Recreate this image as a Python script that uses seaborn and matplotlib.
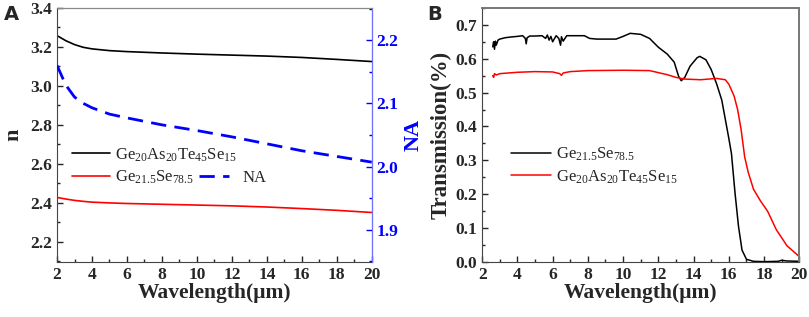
import numpy as np
import pandas as pd
import seaborn as sns
import matplotlib.pyplot as plt
from matplotlib.ticker import MultipleLocator

sns.set_style("ticks")
plt.rcParams['font.family'] = ['Liberation Serif', 'DejaVu Serif']
plt.rcParams['mathtext.fontset'] = 'custom'
plt.rcParams['mathtext.rm'] = 'Liberation Serif'
plt.rcParams['mathtext.it'] = 'Liberation Serif:italic'

# Panel A: refractive index n and NA vs wavelength
wl_a = [2, 2.5, 3, 3.5, 4, 5, 6, 8, 10, 12, 14, 16, 18, 20]
n_gast = [3.258, 3.232, 3.212, 3.198, 3.190, 3.181, 3.176, 3.169, 3.163, 3.158, 3.153, 3.146, 3.136, 3.125]
n_gese = [2.428, 2.420, 2.413, 2.408, 2.404, 2.400, 2.397, 2.393, 2.389, 2.385, 2.379, 2.371, 2.362, 2.351]
na_vals = [2.160, 2.129, 2.110, 2.100, 2.093, 2.083, 2.077, 2.066, 2.057, 2.047, 2.036, 2.025, 2.016, 2.007]

# Panel B: transmission vs wavelength
wl_b1 = [2.6, 2.65, 2.7, 2.75, 2.8, 2.9, 3.0, 3.3, 3.6, 4.0, 4.3, 4.45, 4.5, 4.55, 4.7, 5.0,
         5.4, 5.6, 5.7, 5.8, 5.9, 6.0, 6.2, 6.35, 6.45, 6.5, 6.6, 6.8, 7.0, 7.4, 7.8, 8.1,
         8.5, 9.0, 9.6, 10.0, 10.4, 11.0, 11.5, 12.0, 12.5, 12.9, 13.15, 13.3, 13.5, 13.8,
         14.2, 14.35, 14.7, 15.0, 15.3, 15.6, 16.0, 16.15, 16.35, 16.55, 16.75, 17.0, 17.4,
         18.0, 18.8, 19.0, 19.3, 20.0]
tr_gese = [0.635, 0.650, 0.628, 0.652, 0.640, 0.655, 0.658, 0.662, 0.664, 0.666, 0.668, 0.660, 0.644, 0.662, 0.667, 0.667,
           0.668, 0.660, 0.670, 0.655, 0.666, 0.650, 0.668, 0.660, 0.640, 0.665, 0.652, 0.668, 0.668, 0.668, 0.668, 0.660,
           0.658, 0.658, 0.658, 0.666, 0.675, 0.672, 0.660, 0.634, 0.614, 0.590, 0.548, 0.535, 0.545, 0.578,
           0.603, 0.607, 0.597, 0.568, 0.527, 0.478, 0.365, 0.320, 0.205, 0.105, 0.035, 0.008, 0.002,
           0.001, 0.002, 0.005, 0.003, 0.002]

wl_b2 = [2.6, 2.65, 2.7, 2.8, 3.0, 3.5, 4.0, 5.0, 6.0, 6.4, 6.5, 6.6, 7.0, 8.0, 10.0, 11.5, 12.5,
         13.0, 13.5, 14.4, 15.3, 15.8, 16.0, 16.3, 16.5, 16.7, 16.9, 17.1, 17.4, 17.8, 18.2,
         18.7, 19.3, 20.0]
tr_gast = [0.550, 0.545, 0.556, 0.552, 0.556, 0.558, 0.560, 0.562, 0.561, 0.556, 0.551, 0.558, 0.562, 0.565, 0.566, 0.565, 0.553,
           0.545, 0.540, 0.538, 0.542, 0.538, 0.525, 0.490, 0.450, 0.390, 0.310, 0.265, 0.215, 0.180, 0.150,
           0.095, 0.048, 0.016]

lab_gast = r'$\mathrm{Ge_{20}As_{20}Te_{45}Se_{15}}$'
lab_gese = r'$\mathrm{Ge_{21.5}Se_{78.5}}$'

df_a = pd.DataFrame({'wl': wl_a, 'n1': n_gast, 'n2': n_gese, 'na': na_vals})
df_b1 = pd.DataFrame({'wl': wl_b1, 't': tr_gese})
df_b2 = pd.DataFrame({'wl': wl_b2, 't': tr_gast})

fig = plt.figure(figsize=(8.09, 3.17), dpi=100)
ax1 = fig.add_axes([0.0705, 0.1735, 0.389, 0.8015])
ax2 = ax1.twinx()
axb = fig.add_axes([0.596, 0.1735, 0.392, 0.8015])

# ---- Panel A
sns.lineplot(data=df_a, x='wl', y='n1', ax=ax1, color='black', lw=1.2, label=lab_gast)
sns.lineplot(data=df_a, x='wl', y='n2', ax=ax1, color='red', lw=1.2, label=lab_gese)
sns.lineplot(data=df_a, x='wl', y='na', ax=ax2, color='blue', lw=2.0, label='NA')
ax2.lines[0].set_dashes([5.5, 3])

ax1.set_xlim(2, 20)
ax1.set_ylim(2.097, 3.4)
ax2.set_ylim(1.849, 2.251)
ax1.xaxis.set_major_locator(MultipleLocator(2))
ax1.xaxis.set_minor_locator(MultipleLocator(1))
ax1.yaxis.set_minor_locator(MultipleLocator(0.1))
ax2.yaxis.set_minor_locator(MultipleLocator(0.05))
ax1.set_yticks([2.2, 2.4, 2.6, 2.8, 3.0, 3.2, 3.4])
ax2.set_yticks([1.9, 2.0, 2.1, 2.2])

ax1.tick_params(which='both', direction='in', top=False, right=False, width=1)
ax1.tick_params(which='major', length=4, labelsize=12.5)
ax1.tick_params(which='minor', length=2)
ax2.tick_params(which='both', direction='in', colors='blue', width=1)
ax2.tick_params(which='major', length=4, labelsize=12.5)
ax2.tick_params(which='minor', length=2)
for lbl in ax1.get_xticklabels() + ax1.get_yticklabels() + ax2.get_yticklabels():
    lbl.set_fontweight('bold')

ax1.set_xlabel('Wavelength(μm)', fontsize=15.5, fontweight='bold', labelpad=0)
ax1.set_ylabel('n', fontsize=16, fontweight='bold', labelpad=5)
ax2.set_ylabel('NA', fontsize=16, fontweight='bold', color='blue', labelpad=4)

ax1.spines['top'].set_color('#888888')
ax1.spines['left'].set_color('#444444')
ax1.spines['bottom'].set_color('#444444')
ax2.spines['right'].set_color('#7070ff')
ax2.spines['top'].set_color('#888888')
ax2.spines['left'].set_visible(False)
ax2.spines['bottom'].set_visible(False)

ax1.legend(loc='upper left', bbox_to_anchor=(0.0, 0.515), frameon=False,
           fontsize=12, handlelength=2.3, handletextpad=0.3, labelspacing=0.3)
ax2.legend(loc='upper left', bbox_to_anchor=(0.404, 0.422), frameon=False,
           fontsize=12, handlelength=1.8, handletextpad=0.8)

# ---- Panel B
sns.lineplot(data=df_b1, x='wl', y='t', ax=axb, color='black', lw=1.1, label=lab_gese)
sns.lineplot(data=df_b2, x='wl', y='t', ax=axb, color='red', lw=1.1, label=lab_gast)
axb.set_xlim(2, 20)
axb.set_ylim(0, 0.75)
axb.xaxis.set_major_locator(MultipleLocator(2))
axb.xaxis.set_minor_locator(MultipleLocator(1))
axb.set_yticks([0.0, 0.1, 0.2, 0.3, 0.4, 0.5, 0.6, 0.7])
axb.yaxis.set_minor_locator(MultipleLocator(0.05))
axb.tick_params(which='both', direction='in', top=False, right=False, width=1)
axb.tick_params(which='major', length=4, labelsize=12.5)
axb.tick_params(which='minor', length=2)
for lbl in axb.get_xticklabels() + axb.get_yticklabels():
    lbl.set_fontweight('bold')
axb.set_xlabel('Wavelength(μm)', fontsize=15.5, fontweight='bold', labelpad=0)
axb.set_ylabel('Transmission(%)', fontsize=16.5, fontweight='bold', labelpad=3)
for s in ['top', 'right']:
    axb.spines[s].set_color('#777777')
    axb.spines[s].set_linewidth(1.4)
for s in ['left', 'bottom']:
    axb.spines[s].set_color('#444444')
axb.legend(loc='upper left', bbox_to_anchor=(0.045, 0.516), frameon=False,
           fontsize=12, handlelength=2.4, handletextpad=0.3, labelspacing=0.3)

fig.text(0.005, 0.955, 'A', fontsize=14, fontweight='bold', family='DejaVu Sans', va='center')
fig.text(0.528, 0.955, 'B', fontsize=14, fontweight='bold', family='DejaVu Sans', va='center')

fig.savefig('out.png', dpi=100)
